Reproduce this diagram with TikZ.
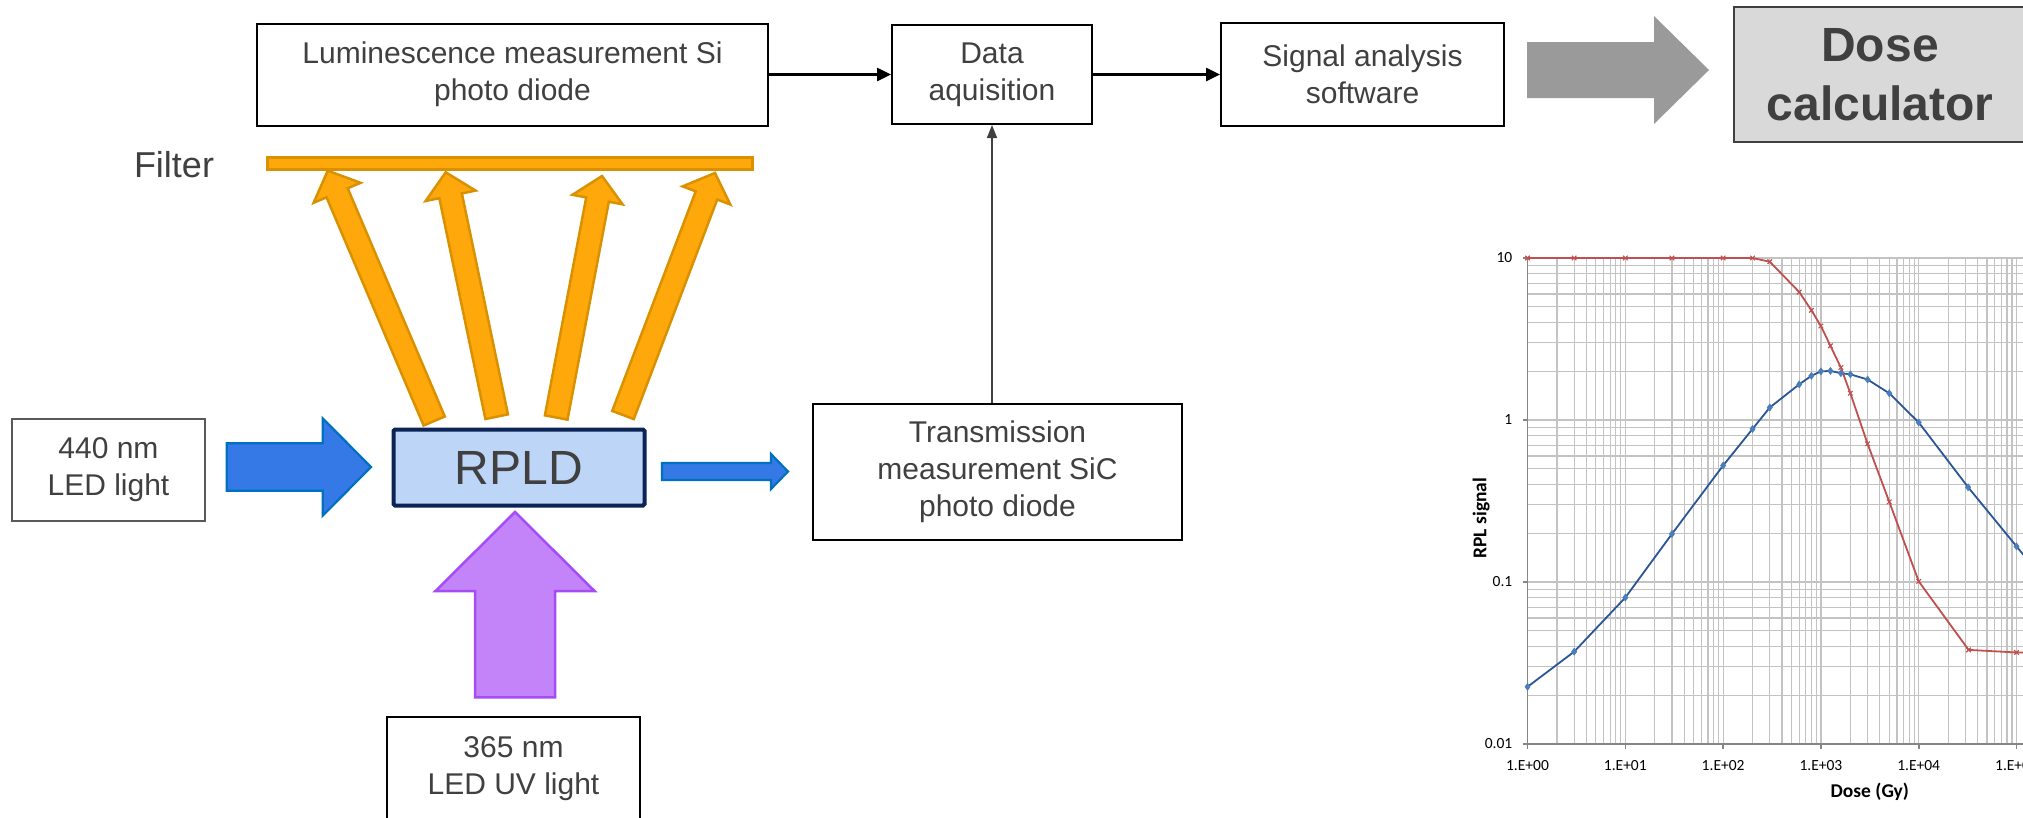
\documentclass[tikz,border=0pt]{standalone}
\usepackage{fontspec}
\setmainfont{Liberation Sans}
\newfontfamily\chartfont{Carlito}
\usetikzlibrary{calc,arrows.meta,plotmarks}
\definecolor{txt}{HTML}{404040}
\definecolor{orfill}{HTML}{FFA80C}
\definecolor{ordraw}{HTML}{D99100}
\definecolor{blfill}{HTML}{3479E5}
\definecolor{bldraw}{HTML}{0070C0}
\definecolor{pufill}{HTML}{C384FA}
\definecolor{pudraw}{HTML}{A64CF6}
\definecolor{rpfill}{HTML}{BDD5F6}
\definecolor{rpdraw}{HTML}{0B2355}
\definecolor{garrow}{HTML}{9A9A9A}
\definecolor{dosefill}{HTML}{D9D9D9}
\definecolor{dosedraw}{HTML}{3F3F3F}
\definecolor{gridc}{HTML}{C3C3C3}
\definecolor{axisc}{HTML}{868686}
\definecolor{bline}{HTML}{2A5596}
\definecolor{bmark}{HTML}{4A7EBB}
\definecolor{rline}{HTML}{C0504D}
\newcommand\blockarrow[6]{%
  \coordinate (ba-s) at #2;
  \coordinate (ba-e) at #3;
  \coordinate (ba-c) at ($(ba-e)!#6!(ba-s)$);
  \path[#1] ($(ba-s)!#4!90:(ba-e)$) -- ($(ba-c)!#4!90:(ba-e)$) -- ($(ba-c)!#5!90:(ba-e)$) -- (ba-e) -- ($(ba-c)!#5!-90:(ba-e)$) -- ($(ba-c)!#4!-90:(ba-e)$) -- ($(ba-s)!#4!-90:(ba-e)$) -- cycle;
}
\tikzset{
  box/.style={draw=black, line width=2pt, fill=white, text=txt, align=center, inner sep=0pt,
    font=\fontsize{30}{37}\selectfont},
  orarrow/.style={fill=orfill, draw=ordraw, line width=2.5pt},
  blarrow/.style={fill=blfill, draw=bldraw, line width=2.2pt},
  puarrow/.style={fill=pufill, draw=pudraw, line width=2.5pt},
  grarrow/.style={fill=garrow},
  conn/.style={line width=2.5pt, draw=black, -{Triangle[length=14pt,width=13pt]}},
  connthin/.style={line width=1.6pt, draw=txt, -{Triangle[length=13pt,width=10pt]}},
  gridl/.style={draw=gridc, line width=1.2pt},
  axisl/.style={draw=axisc, line width=1.6pt},
  tlabel/.style={font=\chartfont\fontsize{15.5}{18}\selectfont, text=black, inner sep=0pt},
  atitle/.style={font=\chartfont\bfseries\fontsize{19.5}{22}\selectfont, text=black, inner sep=0pt},
}
\begin{document}
\begin{tikzpicture}[x=1pt, y=-1pt]
\useasboundingbox (0,0) rectangle (2023,817);
% --- top row
\node[box, minimum width=511pt, minimum height=102pt] (lum) at (512.5,74.5) {Luminescence measurement Si\\photo diode};
\node[box, minimum width=200pt, minimum height=99pt] (data) at (992,74.5) {Data\\aquisition};
\node[box, minimum width=283pt, minimum height=103pt] (sig) at (1362.5,74.5) {Signal analysis\\software};
\node[draw=dosedraw, fill=dosefill, line width=2.5pt, text=txt, align=center, inner sep=0pt,
  font=\bfseries\fontsize{48}{59}\selectfont, minimum width=292pt, minimum height=135pt] (dose) at (1880,74.5) {Dose\\calculator};
\coordinate (ga-s) at (1527,70);
\coordinate (ga-e) at (1709,70);
\blockarrow{grarrow}{(ga-s)}{(ga-e)}{28pt}{54pt}{55pt}
\draw[conn] (lum.east) -- (data.west);
\draw[conn] (data.east) -- (sig.west);
% --- filter
\node[text=txt, font=\fontsize{36}{40}\selectfont, inner sep=0pt] (flabel) at (174,165) {Filter};
\node[fill=orfill, draw=ordraw, line width=3pt, minimum width=485pt, minimum height=12pt, inner sep=0pt] (filter) at (510,163.5) {};
% --- RPLD
\node[draw=rpdraw, fill=rpfill, line width=4pt, rounded corners=1.5pt, text=txt, inner sep=0pt,
  font=\fontsize{48}{52}\selectfont, minimum width=251pt, minimum height=76pt] (rpld) at (519,467.5) {RPLD};
% orange arrows
\coordinate (o1s) at (434.2,421); \coordinate (o1e) at (327.7,170.7);
\coordinate (o2s) at (496.7,416.7); \coordinate (o2e) at (445.7,172.3);
\coordinate (o3s) at (556.2,417.5); \coordinate (o3e) at (602,176);
\coordinate (o4s) at (623,415); \coordinate (o4e) at (715,173);
\blockarrow{orarrow}{(o1s)}{(o1e)}{11.5pt}{25.5pt}{24pt}
\blockarrow{orarrow}{(o2s)}{(o2e)}{11.5pt}{25.5pt}{24pt}
\blockarrow{orarrow}{(o3s)}{(o3e)}{11.5pt}{25.5pt}{24pt}
\blockarrow{orarrow}{(o4s)}{(o4e)}{11.5pt}{25.5pt}{24pt}
% --- 440 nm
\node[box, draw=black!65, minimum width=193pt, minimum height=102pt] (led) at (108.5,469.5) {440 nm\\LED light};
\coordinate (b-s) at (226.7,467);
\coordinate (b-e) at (371,467);
\blockarrow{blarrow}{(b-s)}{(b-e)}{23.7pt}{48.7pt}{48.3pt}
% --- small arrow to transmission
\coordinate (s-s) at (662,471.5);
\coordinate (s-e) at (788,471.5);
\blockarrow{blarrow}{(s-s)}{(s-e)}{8.5pt}{17.5pt}{17pt}
\node[box, minimum width=369pt, minimum height=136pt] (trans) at (997.5,472) {Transmission\\measurement SiC\\photo diode};
\draw[connthin] (data.south |- trans.north) -- (data.south);
% --- UV
\coordinate (p-s) at (515,697.3);
\coordinate (p-e) at (515,512);
\blockarrow{puarrow}{(p-s)}{(p-e)}{40pt}{79.5pt}{79pt}
\node[box, minimum width=253pt, minimum height=103pt] (uv) at (513.5,768.5) {365 nm\\LED UV light};
% --- chart
\begin{scope}[shift={(1527.5,744)}, x=97.8pt, y=162pt]
  \foreach \d in {0,...,5}{
    \foreach \k in {1,...,9}{
      \pgfmathsetmacro\u{\d+log10(\k)}
      \draw[gridl] (\u,0) -- (\u,3);
    }
  }
  \foreach \d in {0,1,2}{
    \foreach \k in {1,...,9}{
      \pgfmathsetmacro\v{\d+log10(\k)}
      \draw[gridl] (0,\v) -- (5.3,\v);
    }
  }
  \draw[gridl] (0,3) -- (5.3,3);
  \draw[axisl] (0,3) -- (0,0) -- (5.3,0);
  \foreach \v in {0,1,2,3} \draw[axisl] (0,\v) -- ++(-5pt,0);
  \foreach \u in {0,...,5} \draw[axisl] (\u,0) -- ++(0,-5pt);
  \node[tlabel, anchor=east] (y0) at ($(0,0)+(-15pt,0)$) {0.01};
  \node[tlabel, anchor=east] (y1) at ($(0,1)+(-15pt,0)$) {0.1};
  \node[tlabel, anchor=east] (y2) at ($(0,2)+(-15pt,0)$) {1};
  \node[tlabel, anchor=east] (y3) at ($(0,3)+(-15pt,0)$) {10};
  \foreach \u in {0,...,5}{
    \node[tlabel] (x\u) at ($(\u,0)+(0,-22pt)$) {1.E+0\u};
  }
  \node[atitle] (xt) at ($(3.5,0)+(0,-48pt)$) {Dose (Gy)};
  \node[atitle, rotate=90] (yt) at (-0.475,1.395) {RPL signal};
  \draw[rline, line width=1.8pt, line join=round] plot coordinates {
    (0,3) (0.477,3) (1,3) (1.477,3) (2,3) (2.301,3) (2.477,2.977) (2.778,2.79) (2.903,2.677)
    (3,2.58) (3.097,2.458) (3.204,2.324) (3.301,2.165) (3.477,1.853) (3.699,1.495) (4,1.004)
    (4.51,0.581) (5,0.565) (5.5,0.56)};
  \draw plot[only marks, mark=x, mark size=3.2pt, mark options={draw=rline, line width=1.1pt}] coordinates {
    (0,3) (0.477,3) (1,3) (1.477,3) (2,3) (2.301,3) (2.477,2.977) (2.778,2.79) (2.903,2.677)
    (3,2.58) (3.097,2.458) (3.204,2.324) (3.301,2.165) (3.477,1.853) (3.699,1.495) (4,1.004)
    (4.51,0.581) (5,0.565)};
  \draw[bline, line width=1.8pt, line join=round] plot coordinates {
    (0,0.353) (0.477,0.570) (1,0.904) (1.477,1.297) (2,1.719) (2.301,1.945) (2.477,2.077)
    (2.778,2.22) (2.903,2.273) (3,2.30) (3.097,2.303) (3.204,2.289) (3.301,2.282) (3.477,2.25)
    (3.699,2.165) (4,1.985) (4.505,1.585) (5,1.22) (5.5,0.85)};
  \draw plot[only marks, mark=diamond*, mark size=3.6pt, mark options={fill=bmark, draw=bmark}] coordinates {
    (0,0.353) (0.477,0.570) (1,0.904) (1.477,1.297) (2,1.719) (2.301,1.945) (2.477,2.077)
    (2.778,2.22) (2.903,2.273) (3,2.30) (3.097,2.303) (3.204,2.289) (3.301,2.282) (3.477,2.25)
    (3.699,2.165) (4,1.985) (4.505,1.585) (5,1.22)};
\end{scope}
\end{tikzpicture}
\end{document}
